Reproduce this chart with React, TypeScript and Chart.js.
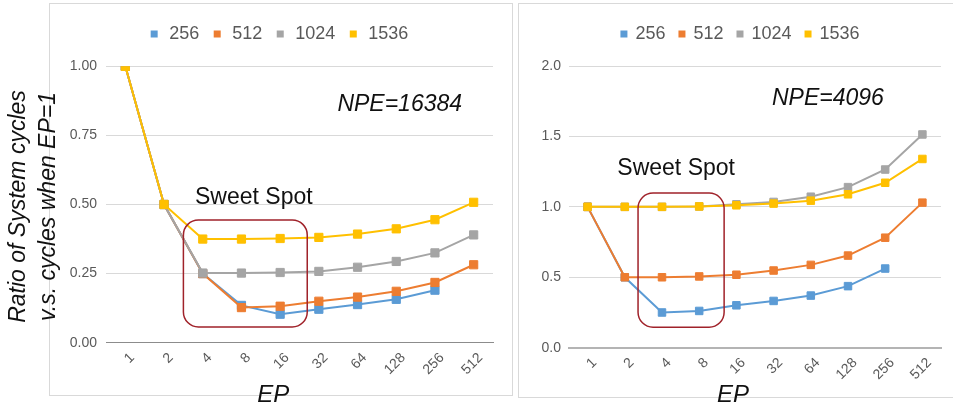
import React, { useEffect, useRef } from "react";
import { Chart, registerables } from "chart.js";

Chart.register(...registerables);
Chart.defaults.font.family = '"Liberation Sans", Arial, sans-serif';

// ---------- data ----------
const EP_LABELS = ["1", "2", "4", "8", "16", "32", "64", "128", "256", "512"];
const SERIES_NAMES = ["256", "512", "1024", "1536"];
const SERIES_COLORS = ["#5B9BD5", "#ED7D31", "#A5A5A5", "#FFC000"];

// NPE = 16384
const NPE16384_256 = [1.0, 0.5, 0.25, 0.135, 0.103, 0.121, 0.138, 0.157, 0.19, null];
const NPE16384_512 = [1.0, 0.5, 0.25, 0.127, 0.132, 0.15, 0.165, 0.186, 0.218, 0.282];
const NPE16384_1024 = [1.0, 0.5, 0.252, 0.252, 0.254, 0.258, 0.273, 0.294, 0.325, 0.39];
const NPE16384_1536 = [1.0, 0.5, 0.375, 0.375, 0.377, 0.381, 0.393, 0.412, 0.445, 0.508];

// NPE = 4096
const NPE4096_256 = [1.0, 0.5, 0.25, 0.261, 0.301, 0.332, 0.37, 0.437, 0.562, null];
const NPE4096_512 = [1.0, 0.5, 0.5, 0.506, 0.518, 0.548, 0.588, 0.654, 0.781, 1.03];
const NPE4096_1024 = [1.0, 1.0, 1.0, 1.003, 1.018, 1.035, 1.072, 1.14, 1.265, 1.514];
const NPE4096_1536 = [1.0, 1.0, 1.0, 1.003, 1.011, 1.023, 1.044, 1.089, 1.171, 1.34];

const LEFT_Y_MAX = 1.0;
const LEFT_Y_STEP = 0.25;
const RIGHT_Y_MAX = 2.0;
const RIGHT_Y_STEP = 0.5;

const Y_TITLE_LINES = ["Ratio of System cycles", "v.s. cycles when EP=1"];
const X_TITLE = "EP";
const SWEET_SPOT = "Sweet Spot";
const LEFT_NOTE = "NPE=16384";
const RIGHT_NOTE = "NPE=4096";

// ---------- annotation plugin ----------
const FONT = '"Liberation Sans", Arial, sans-serif';

function roundRectPath(ctx: CanvasRenderingContext2D, x: number, y: number, w: number, h: number, r: number) {
  ctx.beginPath();
  ctx.moveTo(x + r, y);
  ctx.lineTo(x + w - r, y);
  ctx.arcTo(x + w, y, x + w, y + r, r);
  ctx.lineTo(x + w, y + h - r);
  ctx.arcTo(x + w, y + h, x + w - r, y + h, r);
  ctx.lineTo(x + r, y + h);
  ctx.arcTo(x, y + h, x, y + h - r, r);
  ctx.lineTo(x, y + r);
  ctx.arcTo(x, y, x + r, y, r);
  ctx.closePath();
}

const notesPlugin = {
  id: "notes",
  afterDraw(chart: any, _args: any, opts: any) {
    const { ctx, chartArea, scales } = chart;
    const xs = scales.x;
    const ys = scales.y;
    ctx.save();
    if (opts.box) {
      const b = opts.box;
      const x0 = xs.getPixelForValue(b.x0);
      const x1 = xs.getPixelForValue(b.x1);
      const y0 = ys.getPixelForValue(b.y1);
      const y1 = ys.getPixelForValue(b.y0);
      roundRectPath(ctx, x0, y0, x1 - x0, y1 - y0, b.radius);
      ctx.lineWidth = 1.5;
      ctx.strokeStyle = "#A0222A";
      ctx.stroke();
    }
    ctx.textAlign = "center";
    ctx.textBaseline = "middle";
    ctx.fillStyle = "#111111";
    if (opts.sweet) {
      ctx.font = `23px ${FONT}`;
      ctx.fillText(SWEET_SPOT, xs.getPixelForValue(opts.sweet.x), ys.getPixelForValue(opts.sweet.y));
    }
    if (opts.note) {
      ctx.font = `italic 23px ${FONT}`;
      ctx.fillText(opts.note.text, xs.getPixelForValue(opts.note.x), ys.getPixelForValue(opts.note.y));
    }
    ctx.font = `italic 24px ${FONT}`;
    ctx.fillText(
      X_TITLE,
      chartArea.left + opts.xTitleFrac * (chartArea.right - chartArea.left),
      opts.xTitleY
    );
    if (opts.yTitle) {
      const cy = (chartArea.top + chartArea.bottom) / 2 + 2;
      ctx.font = `italic 23px ${FONT}`;
      opts.yTitle.xs.forEach((x: number, i: number) => {
        ctx.save();
        ctx.translate(x, cy);
        ctx.rotate(-Math.PI / 2);
        ctx.fillText(Y_TITLE_LINES[i], 0, 0);
        ctx.restore();
      });
    }
    ctx.restore();
  },
};

// ---------- config builder ----------
function makeConfig(p: any) {
  const seriesData = p.series;
  const datasets = SERIES_NAMES.map((name, i) => ({
    label: name,
    data: seriesData[i],
    borderColor: SERIES_COLORS[i],
    backgroundColor: SERIES_COLORS[i],
    borderWidth: 2,
    pointStyle: "rect",
    pointRadius: p.pointRadius,
    pointBorderWidth: 1,
    pointBackgroundColor: SERIES_COLORS[i],
    pointBorderColor: SERIES_COLORS[i],
    tension: 0,
    spanGaps: false,
    order: SERIES_NAMES.length - i,
  }));
  return {
    type: "line",
    data: { labels: EP_LABELS, datasets },
    plugins: [notesPlugin],
    options: {
      animation: false,
      responsive: false,
      devicePixelRatio: 1,
      layout: { padding: p.padding },
      plugins: {
        tooltip: { enabled: false },
        // empty spacer between the legend and the plot area
        subtitle: {
          display: true,
          text: "",
          position: "top",
          weight: 500,
          font: { size: 1, lineHeight: 1 },
          padding: { top: p.legendGap - 1, bottom: 0 },
        },
        legend: {
          position: "top",
          labels: {
            usePointStyle: true,
            pointStyle: "rect",
            boxWidth: p.legendBoxWidth,
            boxHeight: 7,
            padding: p.legendPadding,
            color: "#595959",
            font: { size: 18 },
            generateLabels: (chart: any) =>
              Chart.defaults.plugins.legend.labels
                .generateLabels(chart)
                .sort((a: any, b: any) => a.datasetIndex - b.datasetIndex)
                .map((it: any) => ({ ...it, lineWidth: 0, pointStyle: "rect" })),
          },
        },
        notes: p.notes,
      },
      scales: {
        x: {
          type: "category",
          offset: true,
          grid: { display: false, drawTicks: false },
          border: { display: true, color: p.axisColor, width: p.axisWidth },
          ticks: {
            autoSkip: false,
            minRotation: 45,
            maxRotation: 45,
            padding: 7,
            labelOffset: 7,
            color: "#595959",
            font: { size: 14 },
          },
          afterFit: (s: any) => {
            s.height = p.xAxisHeight;
          },
        },
        y: {
          min: 0,
          max: p.yMax,
          grid: {
            color: (c: any) => (c.tick && c.tick.value === 0 ? "rgba(0,0,0,0)" : "#D9D9D9"),
            lineWidth: 1,
            drawTicks: false,
          },
          border: { display: false },
          ticks: {
            stepSize: p.yStep,
            padding: p.yTickPadding,
            color: "#595959",
            font: { size: 14 },
            callback: (v: any) => Number(v).toFixed(p.decimals),
          },
          afterFit: (s: any) => {
            s.width = p.yAxisWidth;
          },
        },
      },
    },
  };
}

const LEFT_W = 512;
const RIGHT_W = 434;
const H = 414;

export default function App() {
  const leftRef = useRef<HTMLCanvasElement>(null);
  const rightRef = useRef<HTMLCanvasElement>(null);

  useEffect(() => {
    const left = new Chart(
      leftRef.current as HTMLCanvasElement,
      makeConfig({
        series: [NPE16384_256, NPE16384_512, NPE16384_1024, NPE16384_1536],
        yMax: LEFT_Y_MAX,
        yStep: LEFT_Y_STEP,
        decimals: 2,
        pointRadius: 5.8,
        padding: { left: 63.5, right: 19, top: 13, bottom: 0 },
        legendGap: 13.3,
        legendBoxWidth: 12,
        legendPadding: 12,
        yAxisWidth: 42.5,
        yTickPadding: 9,
        xAxisHeight: H - 342.7,
        axisColor: "#8C8C8C",
        axisWidth: 1,
        notes: {
          box: { x0: 1.5, x1: 4.7, y0: 0.057, y1: 0.444, radius: 15 },
          sweet: { x: 3.32, y: 0.524 },
          note: { text: LEFT_NOTE, x: 7.09, y: 0.862 },
          xTitleFrac: 0.432,
          xTitleY: 395,
          yTitle: { xs: [18.5, 48.5] },
        },
      }) as any
    );
    const right = new Chart(
      rightRef.current as HTMLCanvasElement,
      makeConfig({
        series: [NPE4096_256, NPE4096_512, NPE4096_1024, NPE4096_1536],
        yMax: RIGHT_Y_MAX,
        yStep: RIGHT_Y_STEP,
        decimals: 1,
        pointRadius: 5.3,
        padding: { left: 21, right: 12, top: 11, bottom: 0 },
        legendGap: 13,
        legendBoxWidth: 5,
        legendPadding: 14,
        yAxisWidth: 29,
        yTickPadding: 8,
        xAxisHeight: H - 347.7,
        axisColor: "#B4B4B4",
        axisWidth: 2,
        notes: {
          box: { x0: 1.356, x1: 3.67, y0: 0.146, y1: 1.098, radius: 15 },
          sweet: { x: 2.38, y: 1.274 },
          note: { text: RIGHT_NOTE, x: 6.46, y: 1.768 },
          xTitleFrac: 0.441,
          xTitleY: 395,
        },
      }) as any
    );
    return () => {
      left.destroy();
      right.destroy();
    };
  }, []);

  return (
    <div style={{ position: "absolute", left: 0, top: 0, width: 953, height: H, overflow: "hidden", background: "#fff" }}>
      <div
        style={{
          position: "absolute",
          left: 49,
          top: 3,
          width: 462,
          height: 391,
          border: "1px solid #D9D9D9",
        }}
      />
      <div
        style={{
          position: "absolute",
          left: 518,
          top: 3,
          width: 435,
          height: 395,
          borderTop: "1px solid #D9D9D9",
          borderLeft: "1px solid #D9D9D9",
          borderBottom: "1px solid #D9D9D9",
          boxSizing: "border-box",
        }}
      />
      <canvas ref={leftRef} width={LEFT_W} height={H} style={{ position: "absolute", left: 0, top: 0 }} />
      <canvas ref={rightRef} width={RIGHT_W} height={H} style={{ position: "absolute", left: 519, top: 0 }} />
    </div>
  );
}
